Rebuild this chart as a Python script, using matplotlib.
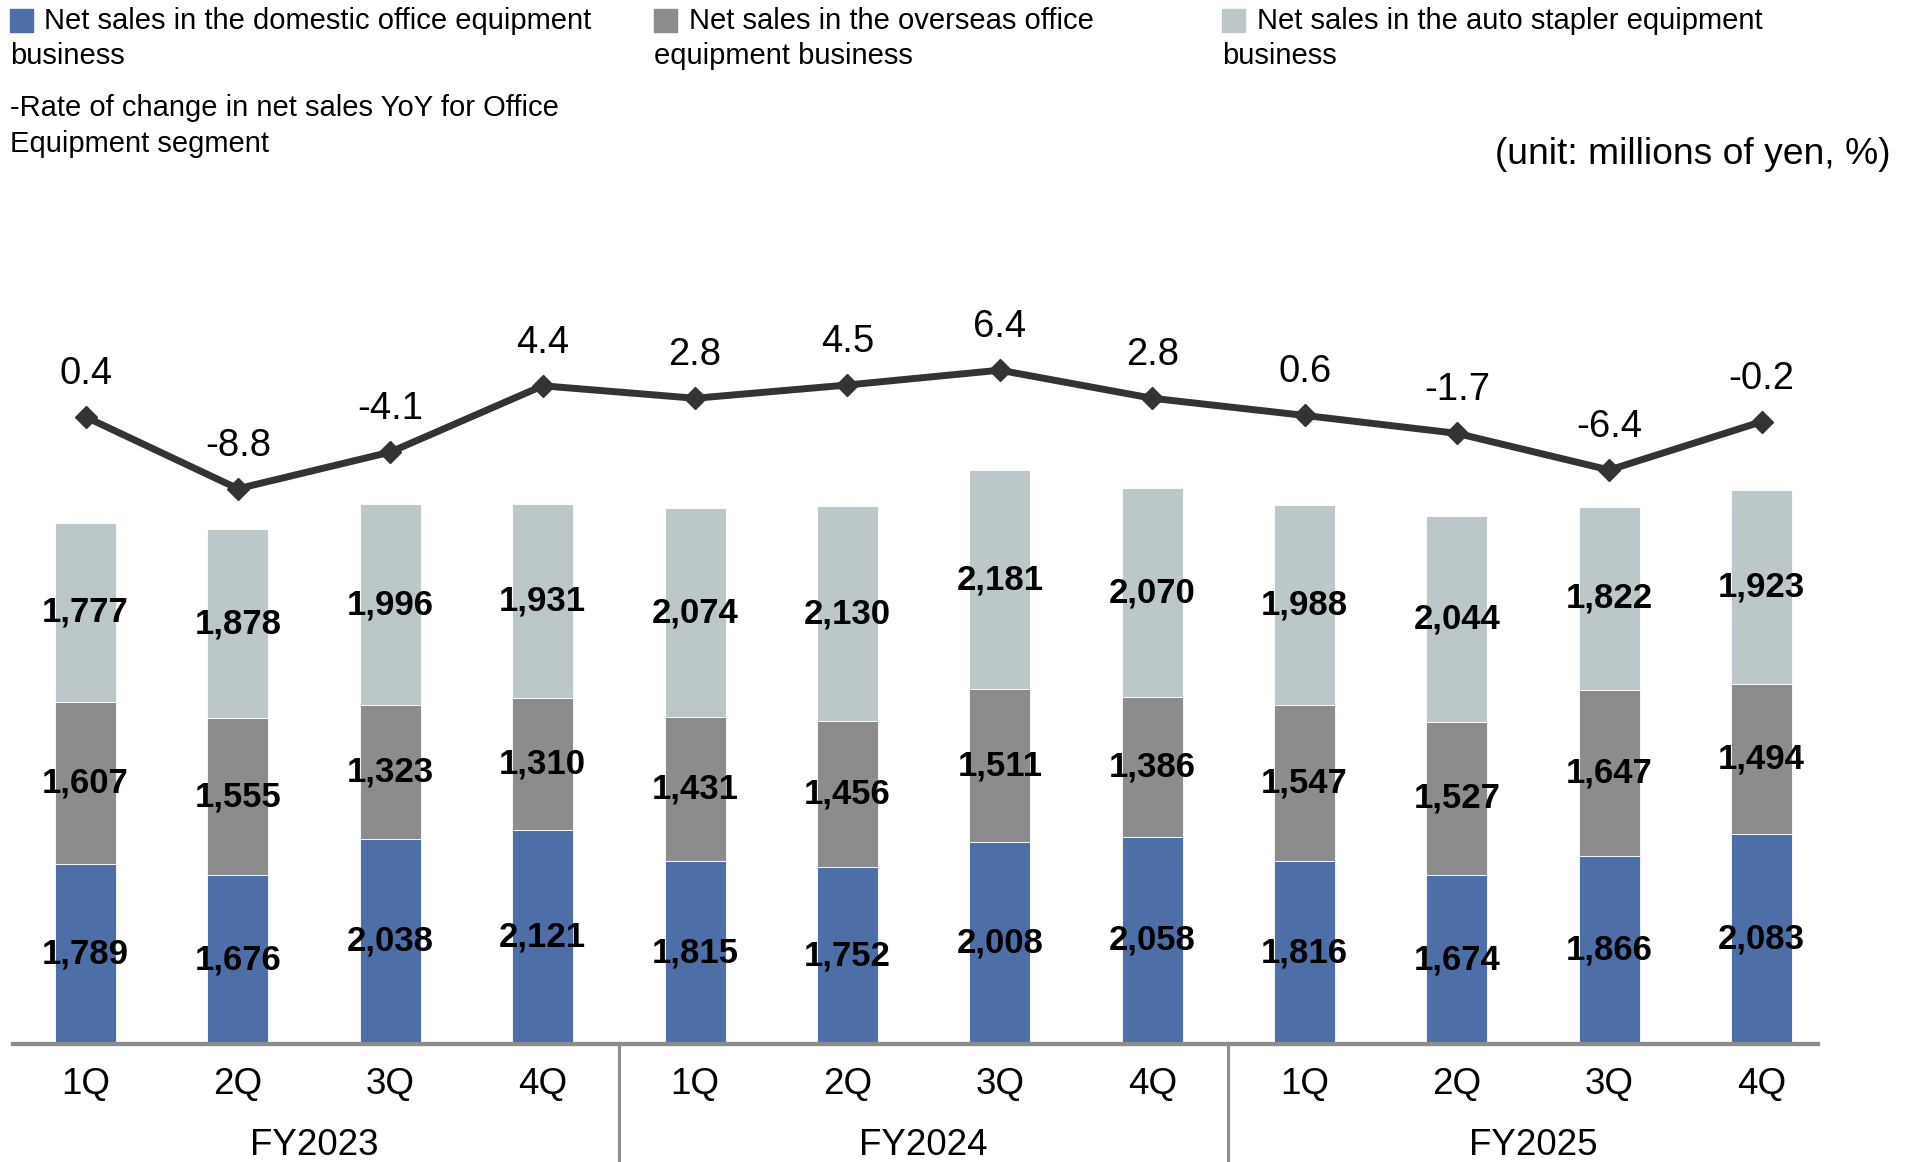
"""
Quarterly net sales by business (stacked bars) with the YoY rate of change
for the Office Equipment segment drawn as a line on a second axis.
"""
import matplotlib.pyplot as plt
from matplotlib.patches import Rectangle
from matplotlib.transforms import blended_transform_factory

plt.rcParams["font.family"] = ["Liberation Sans", "DejaVu Sans"]

QUARTERS = ["1Q", "2Q", "3Q", "4Q"] * 3
FISCAL_YEARS = ["FY2023", "FY2024", "FY2025"]

# millions of yen
domestic = [1789, 1676, 2038, 2121, 1815, 1752, 2008, 2058, 1816, 1674, 1866, 2083]
overseas = [1607, 1555, 1323, 1310, 1431, 1456, 1511, 1386, 1547, 1527, 1647, 1494]
stapler = [1777, 1878, 1996, 1931, 2074, 2130, 2181, 2070, 1988, 2044, 1822, 1923]
# %
yoy_change = [0.4, -8.8, -4.1, 4.4, 2.8, 4.5, 6.4, 2.8, 0.6, -1.7, -6.4, -0.2]

SERIES_NAMES = [
    ("Net sales in the domestic office equipment", "business"),
    ("Net sales in the overseas office", "equipment business"),
    ("Net sales in the auto stapler equipment", "business"),
]
LINE_NAME = ("-Rate of change in net sales YoY for Office", "Equipment segment")

BLUE = "#4E6EA8"
GREY = "#8C8C8C"
LIGHT = "#BCC7C9"
LINE_COLOR = "#333333"
AXIS_COLOR = "#8C8C8C"

W, H = 1910, 1162


def main():
    fig = plt.figure(figsize=(W / 100, H / 100), dpi=100)
    ax = fig.add_axes([12.6 / W, 118 / H, 1805 / W, 744 / H])
    x = list(range(len(domestic)))

    bottoms = [0] * len(x)
    for values, color in ((domestic, BLUE), (overseas, GREY), (stapler, LIGHT)):
        bars = ax.bar(x, values, width=0.4, bottom=bottoms, color=color,
                      edgecolor="white", linewidth=0.6, zorder=2)
        ax.bar_label(bars, labels=[f"{v:,}" for v in values], label_type="center",
                     fontsize=25, fontweight="bold", color="black")
        bottoms = [b + v for b, v in zip(bottoms, values)]

    ax.set_xlim(-0.479, 11.367)
    ax.set_ylim(0, 7385)
    ax.set_yticks([])
    for side in ("top", "left", "right"):
        ax.spines[side].set_visible(False)
    ax.spines["bottom"].set_color(AXIS_COLOR)
    ax.spines["bottom"].set_linewidth(3.1)
    ax.spines["bottom"].set_zorder(3)
    ax.set_xticks(x, QUARTERS)
    ax.tick_params(axis="x", length=0, pad=16.5, labelsize=26.5)

    # fiscal-year labels and the dividers between years
    trans = blended_transform_factory(ax.transData, ax.transAxes)
    for k, fy in enumerate(FISCAL_YEARS):
        ax.text(4 * k + 1.5, -0.137, fy, transform=trans, ha="center",
                va="center", fontsize=26.5)
    for xs in (3.5, 7.5):
        ax.plot([xs, xs], [0, -0.17], transform=trans, color=AXIS_COLOR,
                lw=2.2, clip_on=False)

    ax2 = ax.twinx()
    ax2.set_ylim(-80, 15.4)
    ax2.axis("off")
    ax2.plot(x, yoy_change, color=LINE_COLOR, lw=5, marker="D",
             markersize=11, zorder=4)
    for xi, v in zip(x, yoy_change):
        ax2.annotate(f"{v:.1f}", (xi, v), xytext=(0, 31),
                     textcoords="offset points", ha="center", va="center",
                     fontsize=27.5)

    # legend, laid out by hand in three columns plus the line entry below
    colors = (BLUE, GREY, LIGHT)
    cols = ((10, 44), (654, 689), (1222, 1257))
    for (sq_x, txt_x), color, (first, second) in zip(cols, colors, SERIES_NAMES):
        fig.patches.append(Rectangle((sq_x / W, 1 - 32 / H), 23 / W, 23 / H,
                                     transform=fig.transFigure,
                                     color=color))
        fig.text(txt_x / W, 1 - 21 / H, first, fontsize=21, va="center")
        fig.text(sq_x / W, 1 - 56 / H, second, fontsize=21, va="center")
    fig.text(10 / W, 1 - 108 / H, LINE_NAME[0], fontsize=21, va="center")
    fig.text(10 / W, 1 - 144 / H, LINE_NAME[1], fontsize=21, va="center")

    fig.text(1890 / W, 1 - 155 / H, "(unit: millions of yen, %)",
             fontsize=26.8, ha="right", va="center")

    fig.savefig("out.png", dpi=100)


if __name__ == "__main__":
    main()
